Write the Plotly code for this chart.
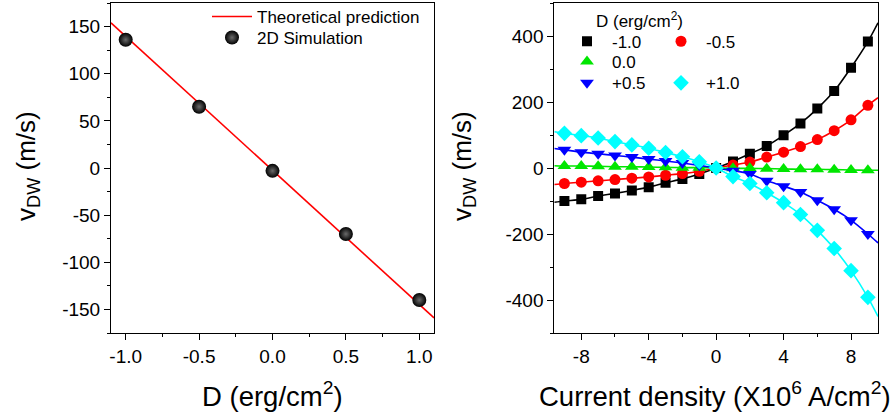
import plotly.graph_objects as go

# ---------------- data ----------------
# Left panel
D_sim = [-1.0, -0.5, 0.0, 0.5, 1.0]
v_sim = [136, 65, -3, -70, -140]
D_theory = [-1.1, 1.1]
v_theory = [154, -159]

# Right panel
J = [-9, -8, -7, -6, -5, -4, -3, -2, -1, 0, 1, 2, 3, 4, 5, 6, 7, 8, 9]
v_m10 = [-100, -95, -85, -77, -68, -58, -45, -33, -18, 0, 20, 43, 67, 99, 135, 180, 233, 304, 383]
v_m05 = [-47, -43, -39, -35, -31, -27, -22, -17, -10, 0, 9, 18, 33, 48, 65, 86, 113, 146, 190]
v_00 = [6, 6, 5, 4, 4, 3, 2, 1, 1, 0, -1, -1, -2, -3, -4, -4, -5, -6, -7]
v_p05 = [55, 48, 43, 38, 33, 27, 21, 15, 8, 0, -8, -18, -39, -55, -73, -98, -125, -158, -200]
v_p10 = [105, 98, 91, 80, 70, 60, 47, 34, 19, 0, -26, -47, -75, -105, -141, -189, -244, -311, -392]
J_end = [-9.6, 9.6]
end_m10 = [-104, 440]
end_m05 = [-50, 213]
end_00 = [7, -7]
end_p05 = [59, -227]
end_p10 = [110, -450]

series_names = ["-1.0", "-0.5", "0.0", "+0.5", "+1.0"]

# tick labels
left_x_ticks = [-1.0, -0.5, 0.0, 0.5, 1.0]
left_x_text = ["-1.0", "-0.5", "0.0", "0.5", "1.0"]
left_x_minor = [-0.75, -0.25, 0.25, 0.75]
left_y_ticks = [-150, -100, -50, 0, 50, 100, 150]
left_y_text = ["-150", "-100", "-50", "0", "50", "100", "150"]
left_y_minor = [-175, -125, -75, -25, 25, 75, 125, 175]
right_x_ticks = [-8, -4, 0, 4, 8]
right_x_text = ["-8", "-4", "0", "4", "8"]
right_x_minor = [-6, -2, 2, 6]
right_y_ticks = [-400, -200, 0, 200, 400]
right_y_text = ["-400", "-200", "0", "200", "400"]
right_y_minor = [-500, -300, -100, 100, 300, 500]

# ---------------- layout helpers ----------------
W, H = 893, 418
ML, MR, MT, MB = 111, 15, 3, 85
PW, PH = W - ML - MR, H - MT - MB


def px(x):
    return (x - ML) / PW


def py(y):
    return 1 - (y - MT) / PH


FONT = "Liberation Sans, Arial, sans-serif"

fig = go.Figure()

# Left panel
fig.add_trace(go.Scatter(
    x=D_theory, y=v_theory, mode="lines", name="Theoretical prediction",
    line=dict(color="#ff0000", width=1.6), xaxis="x", yaxis="y", legend="legend"))
fig.add_trace(go.Scatter(
    x=D_sim, y=v_sim, mode="markers", name="2D Simulation",
    marker=dict(color="black", size=14, line=dict(width=0),
                gradient=dict(type="radial", color="#6a6a6a")),
    xaxis="x", yaxis="y", legend="legend5"))

# Right panel
colors = ["#000000", "#ff0000", "#00e600", "#0000ff", "#00ffff"]
symbols = ["square", "circle", "triangle-up", "triangle-down", "diamond"]
sizes = [10, 11, 12, 12, 12]
vals = [v_m10, v_m05, v_00, v_p05, v_p10]
ends = [end_m10, end_m05, end_00, end_p05, end_p10]
legends = ["legend2", "legend2", "legend3", "legend4", "legend4"]

for name, c, s, sz, v, e, lg in zip(series_names, colors, symbols, sizes, vals, ends, legends):
    fig.add_trace(go.Scatter(
        x=[J_end[0]] + J + [J_end[1]], y=[e[0]] + v + [e[1]],
        mode="lines", line=dict(color=c, width=1.6, shape="spline", smoothing=0.8),
        showlegend=False, hoverinfo="skip", xaxis="x2", yaxis="y2"))
    fig.add_trace(go.Scatter(
        x=J, y=v, mode="markers", name=name,
        marker=dict(color=c, symbol=s, size=sz, line=dict(width=0)),
        xaxis="x2", yaxis="y2", legend=lg))

axis_common = dict(
    showline=True, linecolor="black", linewidth=1, mirror=True,
    ticks="outside", ticklen=6, tickwidth=1, tickcolor="black",
    showgrid=False, zeroline=False, automargin=False,
    tickfont=dict(family=FONT, size=19, color="black"),
)
minor_common = dict(ticks="outside", ticklen=3, tickwidth=1, tickcolor="black", showgrid=False)

leg_font = dict(family=FONT, size=17, color="black")
leg_common = dict(xanchor="left", yanchor="middle", bgcolor="rgba(0,0,0,0)", font=leg_font)

fig.update_layout(
    width=W, height=H,
    margin=dict(l=ML, r=MR, t=MT, b=MB, autoexpand=False),
    paper_bgcolor="white", plot_bgcolor="white",
    font=dict(family=FONT, color="black"),
    xaxis=dict(domain=[0, px(434)], range=[-1.1, 1.1], tickmode="array",
               tickvals=left_x_ticks, ticktext=left_x_text,
               minor=dict(tickmode="array", tickvals=left_x_minor, **minor_common),
               anchor="y", **axis_common),
    yaxis=dict(domain=[0, 1], range=[-175, 175], tickmode="array",
               tickvals=left_y_ticks, ticktext=left_y_text,
               minor=dict(tickmode="array", tickvals=left_y_minor, **minor_common),
               anchor="x", **axis_common),
    xaxis2=dict(domain=[px(554.3), 1], range=[-9.6, 9.6], tickmode="array",
                tickvals=right_x_ticks, ticktext=right_x_text,
                minor=dict(tickmode="array", tickvals=right_x_minor, **minor_common),
                anchor="y2", **axis_common),
    yaxis2=dict(domain=[0, 1], range=[-500, 500], tickmode="array",
                tickvals=right_y_ticks, ticktext=right_y_text,
                minor=dict(tickmode="array", tickvals=right_y_minor, **minor_common),
                anchor="x2", **axis_common),
    legend=dict(x=px(207), y=py(17), itemwidth=40, **leg_common),
    legend5=dict(x=px(207), y=py(38), itemwidth=40, **leg_common),
    legend2=dict(x=px(562), y=py(41.7), orientation="h", itemwidth=40, entrywidth=39, **leg_common),
    legend3=dict(x=px(562), y=py(62), orientation="h", itemwidth=40, entrywidth=39, **leg_common),
    legend4=dict(x=px(562), y=py(83.3), orientation="h", itemwidth=40, entrywidth=39, **leg_common),
    showlegend=True,
)

xtitle_font = dict(family=FONT, size=27.5, color="black")
ytitle_font = dict(family=FONT, size=26, color="black")
annos = [
    dict(text="v<sub>DW</sub> (m/s)", x=px(27), y=py(166), textangle=-90,
         xanchor="center", yanchor="middle", font=ytitle_font),
    dict(text="v<sub>DW</sub> (m/s)", x=px(463), y=py(166), textangle=-90,
         xanchor="center", yanchor="middle", font=ytitle_font),
    dict(text="D (erg/cm<sup>2</sup>)", x=px(272), y=py(394),
         xanchor="center", yanchor="middle", font=xtitle_font),
    dict(text="Current density (X10<sup>6</sup> A/cm<sup>2</sup>)", x=px(715), y=py(394),
         xanchor="center", yanchor="middle", font=xtitle_font),
    dict(text="D (erg/cm<sup>2</sup>)", x=px(594), y=py(20),
         xanchor="left", yanchor="middle", font=leg_font),
]
for a in annos:
    fig.add_annotation(xref="paper", yref="paper", showarrow=False, **a)

fig.write_html("out.html", config={"displayModeBar": False},
               post_script="document.body.style.margin='0';document.body.style.padding='0';")
